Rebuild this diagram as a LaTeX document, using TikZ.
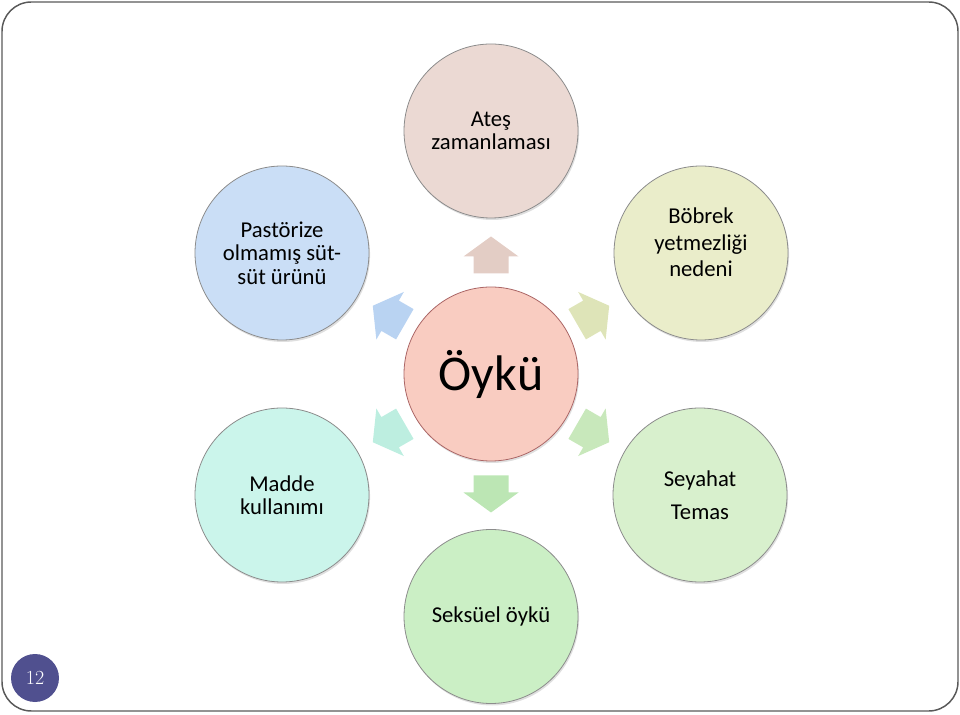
\documentclass[tikz,border=0pt]{standalone}
\usepackage{fontspec}
\setmainfont{Carlito}
\usetikzlibrary{shadows}

\definecolor{corefill}{HTML}{F9CCC1}
\definecolor{feverfill}{HTML}{EBD9D3}
\definecolor{feverarrow}{HTML}{E3CDC5}
\definecolor{milkfill}{HTML}{CADEF6}
\definecolor{milkarrow}{HTML}{B9D3F2}
\definecolor{renalfill}{HTML}{EAEDCA}
\definecolor{renalarrow}{HTML}{DEE4B8}
\definecolor{drugfill}{HTML}{CBF5EB}
\definecolor{drugarrow}{HTML}{BDEEE0}
\definecolor{travelfill}{HTML}{D8F0CD}
\definecolor{travelarrow}{HTML}{C8E8BB}
\definecolor{sexfill}{HTML}{CBEFC5}
\definecolor{sexarrow}{HTML}{BCE6B4}
\definecolor{slidenum}{HTML}{50508F}

\tikzset{
  bubble/.style={circle, draw=black!45, line width=0.6pt, minimum size=130.5pt,
    inner sep=0pt, align=center, font=\fontsize{17}{17.6}\selectfont,
    drop shadow={shadow xshift=0.8pt, shadow yshift=-1.5pt, opacity=0.25}},
  outarrow/.pic={
    \fill[pic actions] (-18.5,-17.5) -- (-1.5,-17.5) -- (-1.5,-27.5) -- (18.5,0)
      -- (-1.5,27.5) -- (-1.5,17.5) -- (-18.5,17.5) -- cycle;
  }
}

\begin{document}
\begin{tikzpicture}[x=0.75pt, y=0.75pt]
  \useasboundingbox (0,0) rectangle (960,714);
  \draw [black!65, line width=1.1pt, rounded corners=22pt] (2,3) rectangle (958,712);

  % centre and outer circles
  \node [bubble, fill=corefill, draw=black!55!red!60, font=\fontsize{37.5}{40}\selectfont] (core) at (491,340) {Öykü};
  \node [bubble, fill=feverfill] (fever) at (491,583) {Ateş\\zamanlaması};
  \node [bubble, fill=milkfill] (milk) at (282,461) {Pastörize\\olmamış süt-\\süt ürünü};
  \node [bubble, fill=renalfill] (renal) at (701,461) {};
  \node [font=\fontsize{17}{20}\selectfont, align=center] (renaltext) at ([yshift=8pt]renal.center) {Böbrek\\yetmezliği\\nedeni};
  \node [bubble, fill=drugfill] (drug) at (282,219) {Madde\\kullanımı};
  \node [bubble, fill=travelfill] (travel) at (700,219) {Seyahat\\[7pt]Temas};
  \node [bubble, fill=sexfill] (sex) at (491,97.5) {Seksüel öykü};

  % block arrows pointing outwards
  \pic [fill=feverarrow, rotate=90] at ([shift={(90:119)}]core.center) {outarrow};
  \pic [fill=renalarrow, rotate=30] at ([shift={(30:118)}]core.center) {outarrow};
  \pic [fill=milkarrow, rotate=150] at ([shift={(150:118)}]core.center) {outarrow};
  \pic [fill=drugarrow, rotate=210] at ([shift={(210:118)}]core.center) {outarrow};
  \pic [fill=travelarrow, rotate=330] at ([shift={(330:118)}]core.center) {outarrow};
  \pic [fill=sexarrow, rotate=270] at ([shift={(270:120)}]core.center) {outarrow};

  % slide number
  \node [circle, fill=slidenum, minimum size=36pt, inner sep=0pt, text=white,
    font=\fontfamily{lmr}\fontsize{15}{15}\selectfont] (pagenum) at (35,36) {12};
\end{tikzpicture}
\end{document}
